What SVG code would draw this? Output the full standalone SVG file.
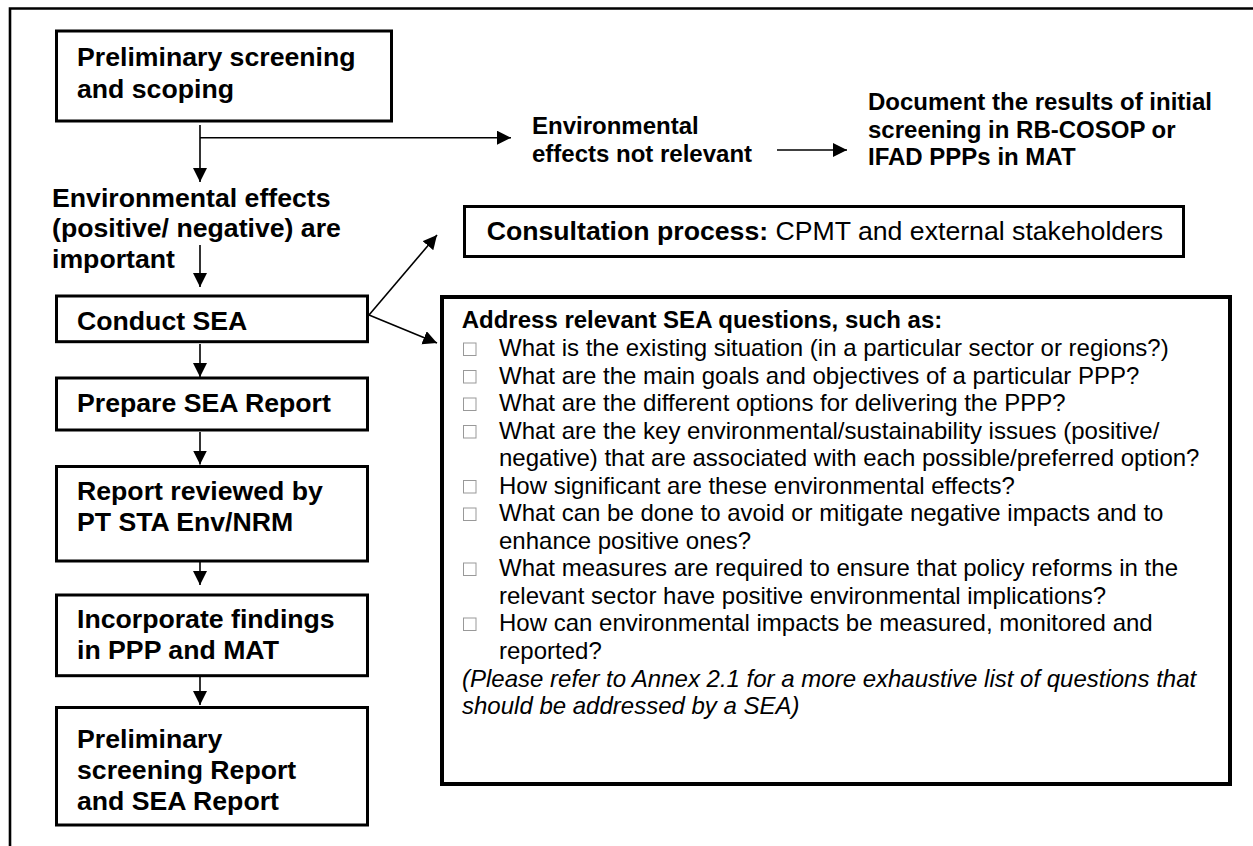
<svg xmlns="http://www.w3.org/2000/svg" width="1253" height="846" viewBox="0 0 1253 846">
<style>
text{font-family:"Liberation Sans",Arial,sans-serif;fill:#000}
.b{font-weight:bold;font-size:26.67px}
.bs{font-weight:bold;font-size:24px}
.q{font-size:24px}
.i{font-size:24px;font-style:italic}
.box{fill:#fff;stroke:#000;stroke-width:3}
.ln{stroke:#000;stroke-width:1.6;fill:none}
.bul{fill:#fff;stroke:#999;stroke-width:1}
</style>
<defs>
<marker id="ah" markerUnits="userSpaceOnUse" markerWidth="15" markerHeight="15" refX="14" refY="7" orient="auto">
<path d="M0,0 L14,7 L0,14 z" fill="#000"/>
</marker>
</defs>
<rect width="1253" height="846" fill="#fff"/>
<path d="M10,846 V8.5 H1253" fill="none" stroke="#000" stroke-width="2.6"/>

<g id="connectors">
<line class="ln" x1="200" y1="125" x2="200" y2="182" marker-end="url(#ah)"/>
<line class="ln" x1="200" y1="137.7" x2="511" y2="137.7" marker-end="url(#ah)"/>
<line class="ln" x1="777" y1="150" x2="847" y2="150" marker-end="url(#ah)"/>
<line class="ln" x1="200" y1="245" x2="200" y2="287" marker-end="url(#ah)"/>
<line class="ln" x1="369" y1="315" x2="437" y2="235" marker-end="url(#ah)"/>
<line class="ln" x1="369" y1="315" x2="437" y2="343" marker-end="url(#ah)"/>
<line class="ln" x1="200" y1="344" x2="200" y2="377" marker-end="url(#ah)"/>
<line class="ln" x1="200" y1="432" x2="200" y2="464.5" marker-end="url(#ah)"/>
<line class="ln" x1="200" y1="544" x2="200" y2="585" marker-end="url(#ah)"/>
<line class="ln" x1="200" y1="677" x2="200" y2="705" marker-end="url(#ah)"/>
</g>

<g id="n-prelim">
<rect class="box" x="56.5" y="31" width="335" height="90"/>
<text class="b" x="77" y="65.5">Preliminary screening</text>
<text class="b" x="77" y="97.5">and scoping</text>
</g>

<g id="n-notrelevant">
<text class="bs" x="532" y="134">Environmental</text>
<text class="bs" x="532" y="161.7">effects not relevant</text>
</g>

<g id="n-document">
<text class="bs" x="868" y="110">Document the results of initial</text>
<text class="bs" x="868" y="137.5">screening in RB-COSOP or</text>
<text class="bs" x="868" y="165">IFAD PPPs in MAT</text>
</g>

<g id="n-important">
<text class="b" x="52" y="206.7">Environmental effects</text>
<text class="b" x="52" y="237.4">(positive/ negative) are</text>
<text class="b" x="52" y="268.1">important</text>
</g>

<g id="n-consult">
<rect class="box" x="464.5" y="206.5" width="719" height="50"/>
<text x="486.7" y="239.5" style="font-size:26.67px"><tspan font-weight="bold">Consultation process:</tspan> CPMT and external stakeholders</text>
</g>

<g id="n-conduct">
<rect class="box" x="56.5" y="296" width="311" height="45.7"/>
<text class="b" x="77" y="330">Conduct SEA</text>
</g>

<g id="n-prepare">
<rect class="box" x="56.5" y="378" width="311" height="52"/>
<text class="b" x="77" y="411.7">Prepare SEA Report</text>
</g>

<g id="n-reviewed">
<rect class="box" x="56.5" y="466.5" width="311" height="94.5"/>
<text class="b" x="77" y="500">Report reviewed by</text>
<text class="b" x="77" y="531">PT STA Env/NRM</text>
</g>

<g id="n-incorporate">
<rect class="box" x="56.5" y="595" width="311" height="80.7"/>
<text class="b" x="77" y="628.3">Incorporate findings</text>
<text class="b" x="77" y="659.3">in PPP and MAT</text>
</g>

<g id="n-final">
<rect class="box" x="56.5" y="707.5" width="311" height="117.5"/>
<text class="b" x="77" y="748.3">Preliminary</text>
<text class="b" x="77" y="779.3">screening Report</text>
<text class="b" x="77" y="810">and SEA Report</text>
</g>

<g id="n-questions">
<rect x="442" y="297" width="788" height="487" fill="#fff" stroke="#000" stroke-width="4"/>
<text class="bs" x="461.7" y="328.3">Address relevant SEA questions, such as:</text>
<rect class="bul" x="463.5" y="343" width="12.5" height="12.5"/>
<text class="q" x="499" y="356">What is the existing situation (in a particular sector or regions?)</text>
<rect class="bul" x="463.5" y="370.5" width="12.5" height="12.5"/>
<text class="q" x="499" y="383.5">What are the main goals and objectives of a particular PPP?</text>
<rect class="bul" x="463.5" y="398" width="12.5" height="12.5"/>
<text class="q" x="499" y="411">What are the different options for delivering the PPP?</text>
<rect class="bul" x="463.5" y="425.5" width="12.5" height="12.5"/>
<text class="q" x="499" y="438.5">What are the key environmental/sustainability issues (positive/</text>
<text class="q" x="499" y="466">negative) that are associated with each possible/preferred option?</text>
<rect class="bul" x="463.5" y="480.5" width="12.5" height="12.5"/>
<text class="q" x="499" y="493.5">How significant are these environmental effects?</text>
<rect class="bul" x="463.5" y="508" width="12.5" height="12.5"/>
<text class="q" x="499" y="521">What can be done to avoid or mitigate negative impacts and to</text>
<text class="q" x="499" y="548.5">enhance positive ones?</text>
<rect class="bul" x="463.5" y="563" width="12.5" height="12.5"/>
<text class="q" x="499" y="576">What measures are required to ensure that policy reforms in the</text>
<text class="q" x="499" y="603.5">relevant sector have positive environmental implications?</text>
<rect class="bul" x="463.5" y="618" width="12.5" height="12.5"/>
<text class="q" x="499" y="631">How can environmental impacts be measured, monitored and</text>
<text class="q" x="499" y="658.5">reported?</text>
<text class="i" x="462" y="686.5">(Please refer to Annex 2.1 for a more exhaustive list of questions that</text>
<text class="i" x="462" y="713.5">should be addressed by a SEA)</text>
</g>
</svg>
